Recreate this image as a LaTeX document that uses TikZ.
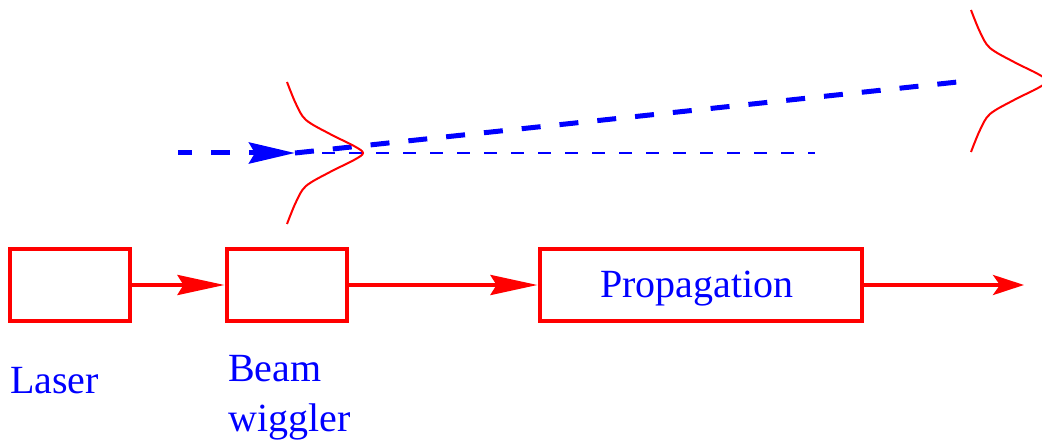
\documentclass[tikz,border=0pt]{standalone}
\usepackage{fontspec}
\setmainfont{Liberation Serif}
\usetikzlibrary{arrows.meta}
\tikzset{
  x=1pt, y=-1pt,
  stage/.style={draw=red, line width=4pt, minimum height=72pt, inner sep=0pt},
  lbl/.style={text=blue, inner sep=0pt, font=\rmfamily\fontsize{40}{50}\selectfont},
  flow/.style={draw=red, line width=4pt, -{Stealth[length=47pt,width=20pt,inset=6pt]}},
  outflow/.style={draw=red, line width=4pt, -{Stealth[length=31pt,width=20pt,inset=7pt]}},
  beam/.style={draw=blue, line width=5pt, dash pattern=on 19pt off 19pt},
  thinbeam/.style={draw=blue, line width=2pt, dash pattern=on 13pt off 14pt},
  pulse/.style={draw=red, line width=2pt},
  gausspulse/.pic={
    \draw[pulse] plot[smooth, tension=0.55] coordinates {
      (-76,-71) (-67,-49) (-57,-33) (-33,-19) (-9,-7) (0,0)
      (-9,7) (-33,19) (-57,33) (-67,49) (-76,71)};
  }
}
\begin{document}
\begin{tikzpicture}
\useasboundingbox (0,0) rectangle (1042,441);
\clip (0,0) rectangle (1042,441);
% stages
\node[stage, minimum width=120pt] (laser) at (70,285) {};
\node[stage, minimum width=120pt] (wiggler) at (286.5,285) {};
\node[stage, minimum width=322pt] (prop) at (700.5,285) {};
\node[lbl, anchor=base] (proptext) at (697,297) {Propagation};
\coordinate (out) at (1024,285);
% connectors
\draw[flow] (laser) -- (wiggler);
\draw[flow] (wiggler) -- (prop);
\draw[outflow] (prop) -- (out);
% labels
\node[lbl, anchor=base west] (laserlbl) at (10,393) {Laser};
\node[lbl, anchor=base west] (beamlbl) at (228,381) {Beam};
\node[lbl, anchor=base west] (wigglbl) at (228,431) {wiggler};
% beam
\coordinate (bstart) at (178,153);
\coordinate (bhit) at (295,153);
\coordinate (bend) at (967,81);
\coordinate (axisend) at (815,153);
\draw[thinbeam] (bhit) -- (axisend);
\draw[beam, dash phase=5pt, -{Stealth[length=46pt,width=21pt,inset=6pt]}] (bstart) -- (bhit);
\draw[beam] (bhit) -- (bend);
% pulses
\pic at (363,153) {gausspulse};
\pic at (1047,81) {gausspulse};
\end{tikzpicture}
\end{document}
